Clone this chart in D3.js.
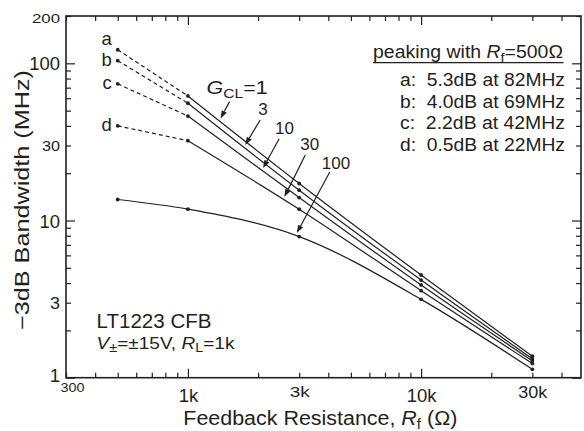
<!DOCTYPE html>
<html><head><meta charset="utf-8">
<script src="https://cdn.jsdelivr.net/npm/d3@7"></script>
<style>
body{margin:0;background:#fff;}
svg{display:block;font-family:'Liberation Sans',Arial,Helvetica,sans-serif;}
</style></head><body>
<svg id="chart" width="584" height="431"></svg>
<script>
// ---------- data ----------
const rfValues = [500, 1000, 3000, 10000, 30000];      // feedback resistance (ohm)
const gainLabels = ["1", "3", "10", "30", "100"];     // closed-loop gain of each curve
const bwG1   = [122, 62, 17.2, 4.5, 1.37];            // -3dB bandwidth (MHz)
const bwG3   = [104, 55.7, 15.6, 4.18, 1.32];
const bwG10  = [74, 46.2, 14.0, 3.89, 1.28];
const bwG30  = [40, 32.2, 11.8, 3.58, 1.23];
const bwG100 = [13.6, 11.8, 7.9, 3.15, 1.13];
const peakLetters = ["a", "b", "c", "d"];
const peakTexts = ["5.3dB at 82MHz", "4.0dB at 69MHz", "2.2dB at 42MHz", "0.5dB at 22MHz"];
const arrowRf = [1380, 1760, 2100, 2590, 2930];        // where each gain arrow points on its curve
const xTicks = [300,400,500,600,700,800,900,1000,2000,3000,4000,5000,6000,7000,8000,9000,10000,20000,30000,40000];
const xTickLabels = {300: "300", 1000: "1k", 3000: "3k", 10000: "10k", 30000: "30k"};
const yTicks = [1,2,3,4,5,6,7,8,9,10,20,30,40,50,60,70,80,90,100,200];
const yTickLabels = {1: "1", 3: "3", 10: "10", 30: "30", 100: "100", 200: "200"};
const series = [bwG1, bwG3, bwG10, bwG30, bwG100];

// ---------- layout / style ----------
const INK = "#231f20";
const L = 66, R = 581, T = 16, B = 377.7;
const svg = d3.select("#chart");
const x = d3.scaleLog().domain([300, 48500]).range([L, R]);
const y = d3.scaleLog().domain([1, 200]).range([B, T]);
const isMajor = v => Math.abs(Math.log10(v) - Math.round(Math.log10(v))) < 1e-9;
// per-label [font size, stretched width, baseline shift, horizontal shift]
const xLabStyle = {300: [13.5, 24, 5.2, 6], 1000: [18.5, null, 15, 0], 3000: [14, 20, 10.2, 0], 10000: [18.5, null, 15, 0], 30000: [16, 29, 11.6, 0]};
const yLabStyle = {1: [18.5, null, 3.5, 0], 3: [16, 10, 5.6, 0], 10: [18.5, null, 6.5, 0], 30: [14.5, 18, 5, 0], 100: [18.5, null, 6.5, 0], 200: [13.5, 28, 6.5, 0]};

function styleAxis(g, horizontal, sign) {
  g.select(".domain").remove();
  g.selectAll(".tick line").attr("stroke", INK).attr("stroke-width", 1.2)
    .each(function(d) {
      const len = isMajor(d) ? 9 : 5;
      d3.select(this).attr(horizontal ? "y2" : "x2", sign * len);
    });
}
function styleLabels(g, st) {
  g.selectAll(".tick text").attr("fill", INK).attr("font-family", null)
    .each(function(d) {
      const s = st[d]; if (!s) return;
      const t = d3.select(this).attr("font-size", s[0]).attr("dy", s[2]).attr("dx", s[3]);
      if (s[1]) t.attr("textLength", s[1]).attr("lengthAdjust", "spacingAndGlyphs");
    });
}
const gB = svg.append("g").attr("transform", `translate(0,${B})`)
  .call(d3.axisBottom(x).tickValues(xTicks).tickSize(-5).tickPadding(9)
    .tickFormat(d => xTickLabels[d] || ""));
styleAxis(gB, true, -1);
styleLabels(gB, xLabStyle);

const gT = svg.append("g").attr("transform", `translate(0,${T})`)
  .call(d3.axisTop(x).tickValues(xTicks).tickSize(-5).tickFormat(""));
styleAxis(gT, true, 1);

const gL = svg.append("g").attr("transform", `translate(${L},0)`)
  .call(d3.axisLeft(y).tickValues(yTicks).tickSize(-5).tickPadding(6)
    .tickFormat(d => yTickLabels[d] || ""));
styleAxis(gL, false, 1);
styleLabels(gL, yLabStyle);

const gR = svg.append("g").attr("transform", `translate(${R},0)`)
  .call(d3.axisRight(y).tickValues(yTicks).tickSize(-5).tickFormat(""));
styleAxis(gR, false, -1);

svg.append("rect").attr("x", L).attr("y", T).attr("width", R - L).attr("height", B - T)
  .attr("fill", "none").attr("stroke", INK).attr("stroke-width", 1.6);

// ---------- curves ----------
const pts = s => s.map((v, i) => [rfValues[i], v]);
const lineSolid = d3.line().x(d => x(d[0])).y(d => y(d[1])).curve(d3.curveMonotoneX);
const lineDash = d3.line().x(d => x(d[0])).y(d => y(d[1]));
series.forEach((s, k) => {
  const p = pts(s);
  const dashed = k < 4;
  if (dashed) {
    svg.append("path").attr("d", lineDash(p.slice(0, 2))).attr("fill", "none")
      .attr("stroke", INK).attr("stroke-width", 1.2).attr("stroke-dasharray", "4,3");
  }
  svg.append("path").attr("d", lineSolid(dashed ? p.slice(1) : p)).attr("fill", "none")
    .attr("stroke", INK).attr("stroke-width", 1.2);
  svg.append("g").selectAll("circle").data(p).join("circle")
    .attr("cx", d => x(d[0])).attr("cy", d => y(d[1])).attr("r", 1.9).attr("fill", INK);
});

peakLetters.forEach((t, k) => {
  svg.append("text").attr("x", x(rfValues[0]) - 6).attr("y", y(series[k][0]) + (k === 0 ? -5 : 5))
    .attr("text-anchor", "end").attr("font-size", 18.5).attr("fill", INK).text(t);
});

// ---------- gain arrows ----------
function interpLog(s, rf) {
  let i = 0;
  while (i < rfValues.length - 2 && rf > rfValues[i + 1]) i++;
  const t = Math.log(rf / rfValues[i]) / Math.log(rfValues[i + 1] / rfValues[i]);
  return Math.exp(Math.log(s[i]) + t * (Math.log(s[i + 1]) - Math.log(s[i])));
}
const arrowVec = [[9, -17], [15, -25], [16, -29], [21, -42], [33, -61]];
const labelOff = [[-23, -8], [-2, -4.5], [-4, -5], [-5, -5.5], [-8, -3.5]];
arrowRf.forEach((rf, k) => {
  const tx = x(rf), ty = y(interpLog(series[k], rf)) - 3;
  const [dx, dy] = arrowVec[k];
  const len = Math.hypot(dx, dy), ux = dx / len, uy = dy / len;
  const hl = 8, hw = 2.8;
  const bx = tx + ux * hl, by = ty + uy * hl;
  svg.append("line").attr("x1", tx + dx).attr("y1", ty + dy).attr("x2", bx).attr("y2", by)
    .attr("stroke", INK).attr("stroke-width", 1.2);
  svg.append("path").attr("d", `M${tx},${ty}L${bx - uy * hw},${by + ux * hw}L${bx + uy * hw},${by - ux * hw}Z`)
    .attr("fill", INK);
  const lx = tx + dx + labelOff[k][0], ly = ty + dy + labelOff[k][1];
  const txt = svg.append("text").attr("x", lx).attr("y", ly).attr("font-size", 17).attr("fill", INK);
  if (k === 0) {
    txt.attr("font-size", 18.5).attr("textLength", 61).attr("lengthAdjust", "spacingAndGlyphs");
    txt.append("tspan").attr("font-style", "italic").text("G");
    txt.append("tspan").attr("font-size", 13.5).attr("dy", 4).text("CL");
    txt.append("tspan").attr("dy", -4).text("=" + gainLabels[k]);
  } else {
    txt.text(gainLabels[k]);
  }
});

// ---------- peaking legend ----------
const legT = svg.append("text").attr("x", 373).attr("y", 57.5).attr("font-size", 17.5).attr("fill", INK)
  .attr("textLength", 190).attr("lengthAdjust", "spacingAndGlyphs");
legT.append("tspan").text("peaking with ");
legT.append("tspan").attr("font-style", "italic").text("R");
legT.append("tspan").attr("font-size", 13).attr("dy", 4).text("f");
legT.append("tspan").attr("dy", -4).text("=500Ω");
svg.append("line").attr("x1", 373).attr("x2", 563.5).attr("y1", 62.7).attr("y2", 62.7)
  .attr("stroke", INK).attr("stroke-width", 1.2);
peakTexts.forEach((t, k) => {
  svg.append("text").attr("x", 400).attr("y", 86 + k * 21.6).attr("font-size", 17.5).attr("fill", INK)
    .attr("textLength", 165).attr("lengthAdjust", "spacingAndGlyphs")
    .attr("xml:space", "preserve").text(peakLetters[k] + ":  " + t);
});

// ---------- notes ----------
svg.append("text").attr("x", 96.5).attr("y", 328.3).attr("font-size", 19.5).attr("fill", INK)
  .attr("textLength", 115).attr("lengthAdjust", "spacingAndGlyphs").text("LT1223 CFB");
const cond = svg.append("text").attr("x", 96.5).attr("y", 349.3).attr("font-size", 16.5).attr("fill", INK)
  .attr("textLength", 138).attr("lengthAdjust", "spacingAndGlyphs");
cond.append("tspan").attr("font-style", "italic").text("V");
cond.append("tspan").attr("font-size", 12.5).attr("dy", 3).text("±");
cond.append("tspan").attr("dy", -3).text("=±15V, ");
cond.append("tspan").attr("font-style", "italic").text("R");
cond.append("tspan").attr("font-size", 12.5).attr("dy", 3).text("L");
cond.append("tspan").attr("dy", -3).text("=1k");

// ---------- axis titles ----------
const xt = svg.append("text").attr("x", 183.3).attr("y", 425).attr("font-size", 20).attr("fill", INK)
  .attr("textLength", 274).attr("lengthAdjust", "spacingAndGlyphs");
xt.append("tspan").text("Feedback Resistance, ");
xt.append("tspan").attr("font-style", "italic").text("R");
xt.append("tspan").attr("font-size", 14).attr("dy", 4).text("f");
xt.append("tspan").attr("dy", -4).text(" (Ω)");

svg.append("text").attr("transform", "translate(29,200) rotate(-90)").attr("text-anchor", "middle")
  .attr("font-size", 20).attr("fill", INK)
  .attr("textLength", 260).attr("lengthAdjust", "spacingAndGlyphs").text("−3dB Bandwidth (MHz)");
</script>
</body></html>
